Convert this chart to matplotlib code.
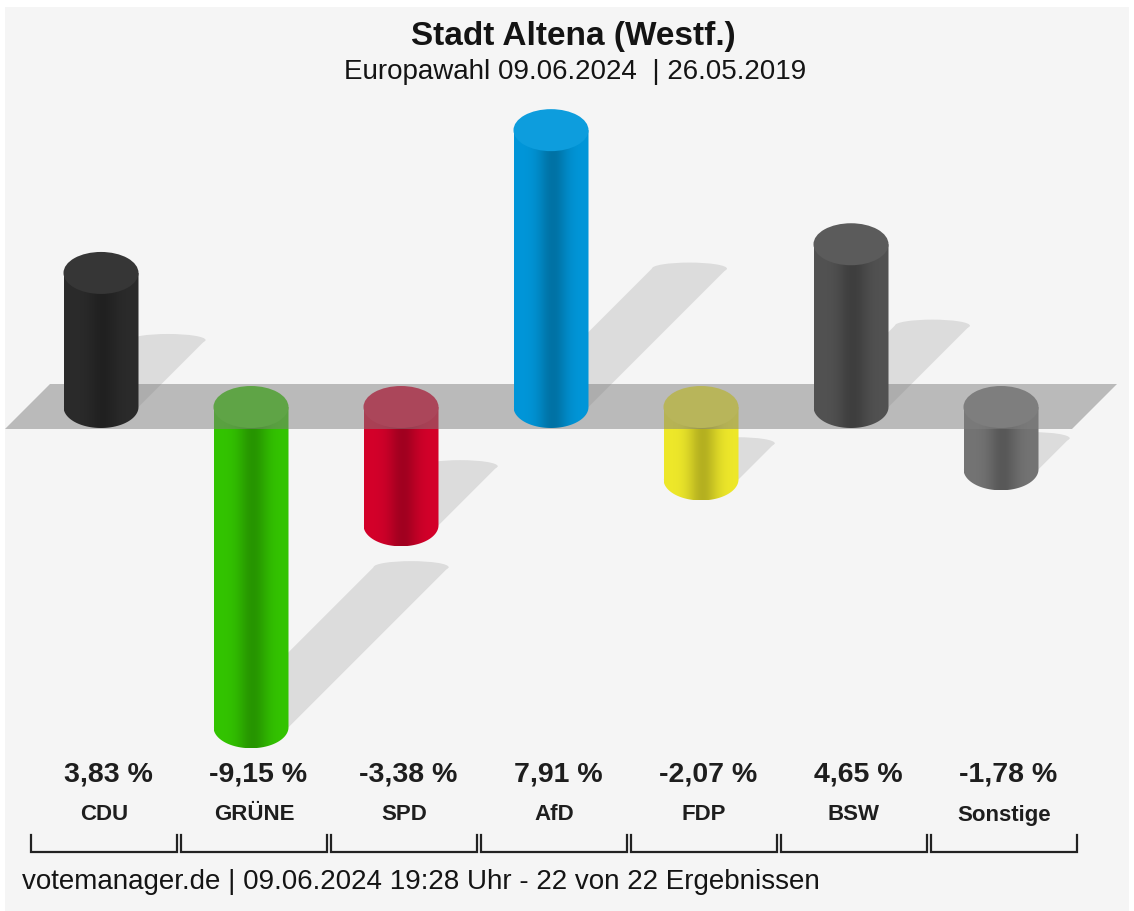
import numpy as np
import matplotlib
matplotlib.use('Agg')
import matplotlib.pyplot as plt
from matplotlib.patches import Polygon, Ellipse, Rectangle
import matplotlib.colors as mcolors

# ---------------- data ----------------
parties = ['CDU', 'GRÜNE', 'SPD', 'AfD', 'FDP', 'BSW', 'Sonstige']
changes = [3.83, -9.15, -3.38, 7.91, -2.07, 4.65, -1.78]
bar_colors = ['#2b2b2b', '#33c400', '#d4002a', '#0096d9', '#eee82a', '#525252', '#747474']
title = 'Stadt Altena (Westf.)'
subtitle = 'Europawahl 09.06.2024  | 26.05.2019'
footer = 'votemanager.de | 09.06.2024 19:28 Uhr - 22 von 22 Ergebnissen'

# ---------------- layout ----------------
W, H = 1134, 911
X0, DX = 101, 150      # pixel column of first category, pixel spacing
Y0, SY = 407, 35       # pixel row of the zero line, pixels per percentage point

plt.rcParams['font.family'] = ['Liberation Sans', 'DejaVu Sans']

fig = plt.figure(figsize=(W / 100, H / 100), dpi=100)
fig.patch.set_facecolor('white')
ax = fig.add_axes([0, 0, 1, 1])
ax.set_xlim(-X0 / DX, (W - X0) / DX)
ax.set_ylim(-(H - Y0) / SY, Y0 / SY)
ax.axis('off')


def hx(p):
    return p / DX


def hy(p):
    return p / SY


def py(p):
    # pixel row -> data y
    return (Y0 - p) / SY


# background panel
ax.add_patch(Rectangle((5 / W, 0), (W - 10) / W, (H - 7) / H, transform=ax.transAxes,
                       facecolor='#f5f5f5', edgecolor='none', zorder=0))

w = hx(37.5)      # half bar width
eh = hy(21)       # half ellipse height
n = len(parties)
xs = np.arange(n)

# ---------------- shadows ----------------
for x, v in zip(xs, changes):
    d = 0.5 * abs(v)
    dxs = hx(d * SY)
    if v >= 0:
        sx, sy = x, 0.0
    else:
        sx, sy = x, v
    ex, ey = sx + dxs, sy + d
    poly = [(sx - w, sy), (ex - w, ey), (ex + w, ey), (sx + w, sy)]
    ax.add_patch(Polygon(poly, closed=True, facecolor='#dcdcdc', edgecolor='none', zorder=1))
    ax.add_patch(Ellipse((ex, ey), 2 * w, 2 * hy(6), facecolor='#dcdcdc', edgecolor='none', zorder=1))


def cylinder(x, v, color, z):
    base = np.array(mcolors.to_rgb(color))
    t = np.linspace(0, 1, 80)
    shade = 1 - 0.24 * np.exp(-((t - 0.52) / 0.2) ** 2)
    grad = np.clip(base[None, :] * shade[:, None], 0, 1)[None, :, :]
    lo, hi = min(0.0, v), max(0.0, v)
    th = np.linspace(0, np.pi, 60)
    arc = [(x + w * np.cos(a), lo - eh * np.sin(a)) for a in th]
    verts = [(x - w, hi), (x + w, hi)] + arc
    clip = Polygon(verts, closed=True, facecolor='none', edgecolor='none', transform=ax.transData)
    ax.add_patch(clip)
    im = ax.imshow(grad, extent=(x - w, x + w, lo - eh, hi), aspect='auto',
                   interpolation='bilinear', zorder=z)
    im.set_clip_path(clip)
    cap = np.clip(base * 0.96 + 0.05, 0, 1)
    ax.add_patch(Ellipse((x, hi), 2 * w, 2 * eh, facecolor=cap, edgecolor='none', zorder=z + 0.1))


# negative bars first (band covers their caps)
for x, v, c in zip(xs, changes, bar_colors):
    if v < 0:
        cylinder(x, v, c, 2)

# zero band (semi-transparent)
band = [(xs[0] - hx(96), -hy(22)), (xs[0] - hx(51), hy(23)),
        (xs[-1] + hx(116), hy(23)), (xs[-1] + hx(71), -hy(22))]
ax.add_patch(Polygon(band, closed=True, facecolor=(0.5, 0.5, 0.5, 0.5), edgecolor='none', zorder=3))

for x, v, c in zip(xs, changes, bar_colors):
    if v >= 0:
        cylinder(x, v, c, 4)

# ---------------- labels ----------------
for x, v, p in zip(xs, changes, parties):
    lab = f'{v:.2f}'.replace('.', ',') + ' %'
    ax.text(x + hx(7), py(774), lab, ha='center', va='center', fontsize=20.5, fontweight='bold',
            color='#1e1e1e', zorder=6)
    ax.text(x + hx(3), py(815), p, ha='center', va='center', fontsize=16, fontweight='bold',
            color='#1e1e1e', zorder=6)
    l, r = x - hx(70), x + hx(76)
    ax.plot([l, l, r, r], [py(835), py(852), py(852), py(835)], color='#222222', lw=1.6,
            solid_joinstyle='miter', zorder=6)

fig.text(573 / W, 1 - 37 / H, title, ha='center', va='center', fontsize=24, fontweight='bold',
         color='#141414')
fig.text(575 / W, 1 - 72 / H, subtitle, ha='center', va='center', fontsize=20, color='#141414')
fig.text(22 / W, 1 - 882 / H, footer, ha='left', va='center', fontsize=20, color='#141414')

fig.savefig('out.png', dpi=100, facecolor=fig.get_facecolor())
